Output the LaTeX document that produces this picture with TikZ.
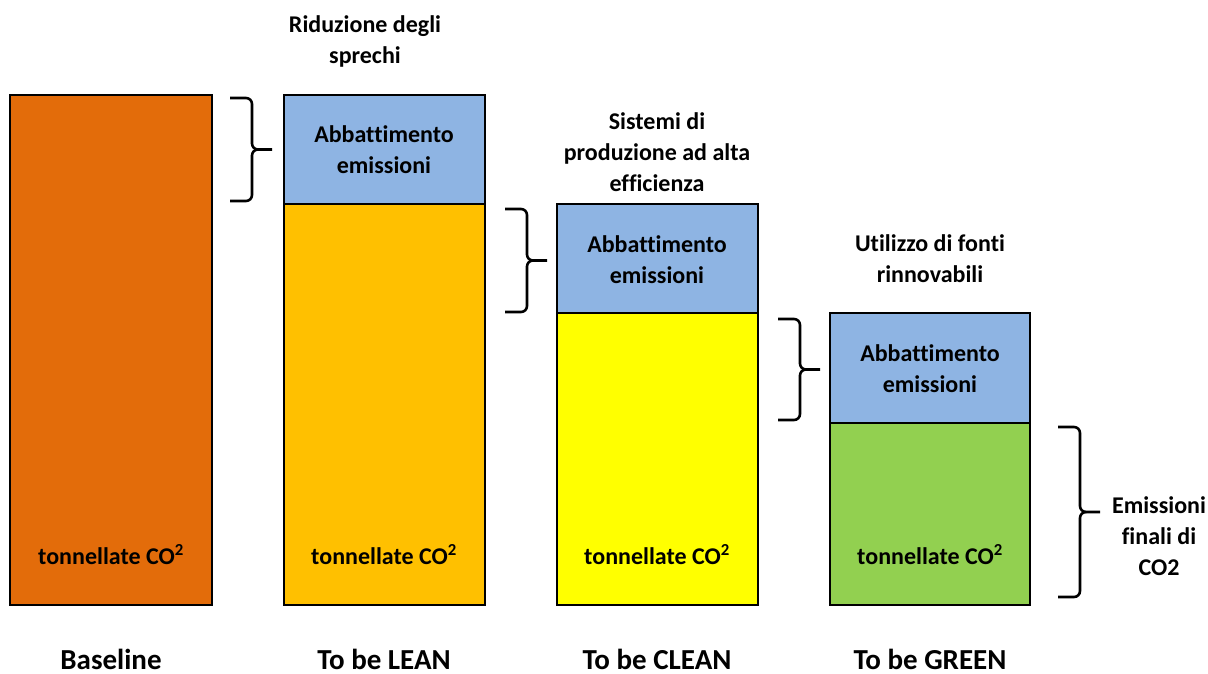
\documentclass[tikz,border=0pt]{standalone}
\usepackage{fontspec}
\setmainfont{Carlito}[Ligatures={NoCommon}]
\definecolor{cBase}{HTML}{E36C0A}
\definecolor{cLean}{HTML}{FFC000}
\definecolor{cClean}{HTML}{FFFF00}
\definecolor{cGreen}{HTML}{92D050}
\definecolor{cBlue}{HTML}{8EB4E3}
\begin{document}
\begin{tikzpicture}[x=1pt,y=-1pt,
  bar/.style={draw=black,line width=1.6pt},
  txt/.style={font=\bfseries\fontsize{24}{31}\selectfont,align=center,text=black,inner sep=0pt},
  lbl/.style={font=\bfseries\fontsize{29}{32}\selectfont,text=black,inner sep=0pt,anchor=base},
  brace/.style={draw=black,line width=2.6pt,line join=round}]
\useasboundingbox (0,0) rectangle (1208,673);
% bars
\path[bar,fill=cBase] (10,95) rectangle (212,605);
\path[bar,fill=cBlue] (284,95) rectangle (485,204);
\path[bar,fill=cLean] (284,204) rectangle (485,605);
\path[bar,fill=cBlue] (557,204) rectangle (758,313);
\path[bar,fill=cClean] (557,313) rectangle (758,605);
\path[bar,fill=cBlue] (830,313) rectangle (1030,423);
\path[bar,fill=cGreen] (830,423) rectangle (1030,605);
% bar texts
\node[txt] (t1) at (111,555) {tonnellate CO\textsuperscript{2}};
\node[txt] (t2) at (384,555) {tonnellate CO\textsuperscript{2}};
\node[txt] (t3) at (657,555) {tonnellate CO\textsuperscript{2}};
\node[txt] (t4) at (930,555) {tonnellate CO\textsuperscript{2}};
\node[txt] (a2) at (384,150) {Abbattimento\\emissioni};
\node[txt] (a3) at (657,260) {Abbattimento\\emissioni};
\node[txt] (a4) at (930,369) {Abbattimento\\emissioni};
% headings
\node[txt] (h2) at (365,41) {Riduzione degli\\sprechi};
\node[txt] (h3) at (657,152) {Sistemi di\\produzione ad alta\\efficienza};
\node[txt] (h4) at (930,259) {Utilizzo di fonti\\rinnovabili};
\node[txt] (ef) at (1159,536) {Emissioni\\finali di\\CO2};
% bottom labels
\node[lbl] (b1) at (111,669) {Baseline};
\node[lbl] (b2) at (384,669) {To be LEAN};
\node[lbl] (b3) at (657,669) {To be CLEAN};
\node[lbl] (b4) at (930,669) {To be GREEN};
% braces
\foreach \x/\ya/\yb in {230/98/201, 505/209/312, 778/319/420, 1058/427/597}{
  \pgfmathsetmacro\ym{(\ya+\yb)/2}
  \draw[brace] (\x,\ya) -- ({\x+16},\ya) to[out=0,in=90] ({\x+22},{\ya+6})
    -- ({\x+22},{\ym-6}) to[out=-90,in=180] ({\x+28},\ym) -- ({\x+42},\ym);
  \draw[brace] (\x,\yb) -- ({\x+16},\yb) to[out=0,in=-90] ({\x+22},{\yb-6})
    -- ({\x+22},{\ym+6}) to[out=90,in=180] ({\x+28},\ym);
}
\end{tikzpicture}
\end{document}
